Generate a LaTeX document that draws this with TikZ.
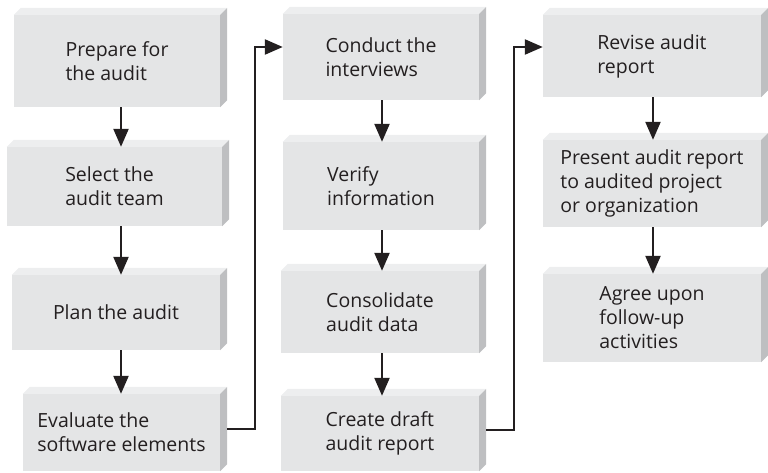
\documentclass[tikz,border=0pt]{standalone}
\usepackage{fontspec}
\setmainfont{Open Sans}
\usepackage{tikz}
\usetikzlibrary{arrows.meta}
\usepackage{xcolor}

\begin{document}
\begin{tikzpicture}[x=1pt,y=-1pt,>={Triangle[length=18pt,width=15pt]},
  font=\fontsize{19.5}{24}\selectfont,
  stepbox/.style={fill=frontgray,inner sep=0pt,align=left,text=inkgray},
  flow/.style={->,line width=2.3pt,draw=inkgray}]
\definecolor{frontgray}{RGB}{228,229,230}
\definecolor{topgray}{RGB}{237,238,239}
\definecolor{sidegray}{RGB}{190,191,193}
\definecolor{inkgray}{RGB}{35,31,32}
\useasboundingbox (0,0) rectangle (768,473);
% first column
\node[stepbox,minimum width=206,minimum height=92] (b1) at (117,61) {Prepare for\\the audit};
\node[stepbox,minimum width=215,minimum height=79] (b2) at (114.5,186.5) {Select the\\audit team};
\node[stepbox,minimum width=208,minimum height=75] (b3) at (116,312.5) {Plan the audit};
\node[stepbox,minimum width=197,minimum height=77] (b4) at (121.5,432.5) {Evaluate the\\software elements};
% second column
\node[stepbox,minimum width=196,minimum height=86] (b5) at (381,57) {Conduct the\\interviews};
\node[stepbox,minimum width=196,minimum height=88] (b6) at (381,186) {Verify\\information};
\node[stepbox,minimum width=198,minimum height=82] (b7) at (380,312) {Consolidate\\audit data};
\node[stepbox,minimum width=198,minimum height=75] (b8) at (380,433.5) {Create draft\\audit report};
% third column
\node[stepbox,minimum width=218,minimum height=82] (b9) at (652,56) {Revise audit\\report};
\node[stepbox,minimum width=218,minimum height=87] (b10) at (652,183.5) {Present audit report\\to audited project\\or organization};
\node[stepbox,minimum width=218,minimum height=88] (b11) at (652,318) {Agree upon\\follow-up\\activities};
% top and side faces
\foreach \i in {1,...,11} {
  \fill[topgray] (b\i.north west) -- ++(7,-7) -- ([shift={(7,-7)}]b\i.north east) -- (b\i.north east) -- cycle;
  \fill[sidegray] (b\i.north east) -- ++(7,-7) -- ([shift={(7,-7)}]b\i.south east) -- (b\i.south east) -- cycle;
}
\coordinate (col1) at (121,0);
\coordinate (col2) at (382,0);
\coordinate (col3) at (653,0);
\draw[flow] (b1.south -| col1) -- (b2.north -| col1);
\draw[flow] (b2.south -| col1) -- (b3.north -| col1);
\draw[flow] (b3.south -| col1) -- (b4.north -| col1);
\draw[flow] (b5.south -| col2) -- (b6.north -| col2);
\draw[flow] (b6.south -| col2) -- (b7.north -| col2);
\draw[flow] (b7.south -| col2) -- (b8.north -| col2);
\draw[flow] (b9.south -| col3) -- (b10.north -| col3);
\draw[flow] (b10.south -| col3) -- (b11.north -| col3);
% links between columns
\coordinate (up1) at (255,47);
\coordinate (up2) at (514,47);
\draw[flow] ([shift={(7,-3.5)}]b4.east) -| (up1) |- ([yshift=10pt]b5.west);
\draw[flow] ([shift={(7,-3.5)}]b8.east) -| (up2) |- ([yshift=9pt]b9.west);
\end{tikzpicture}
\end{document}
